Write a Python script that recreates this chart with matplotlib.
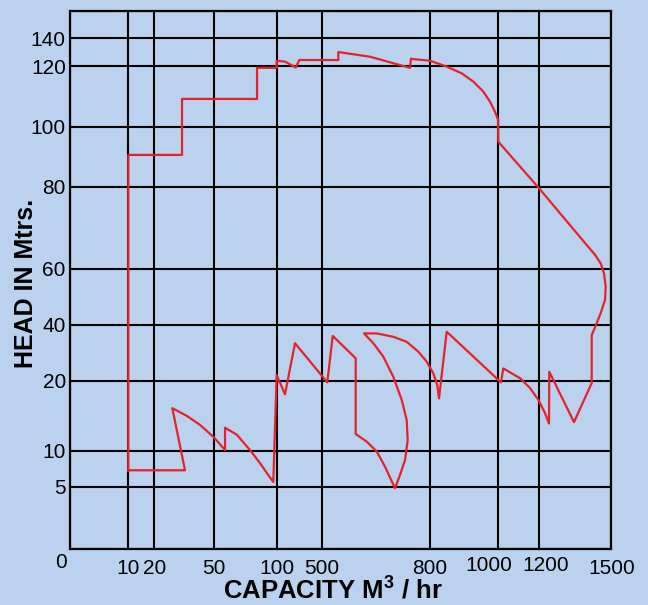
import numpy as np
import matplotlib
matplotlib.use("Agg")
import matplotlib.pyplot as plt

plt.rcParams['font.family'] = ['Liberation Sans', 'DejaVu Sans']
plt.rcParams['mathtext.fontset'] = 'custom'
plt.rcParams['mathtext.rm'] = 'Liberation Sans:bold'
plt.rcParams['mathtext.bf'] = 'Liberation Sans:bold'
plt.rcParams['mathtext.default'] = 'bf'

# Axis tick values (non-uniform chart scale)
x_ticks = [0, 10, 20, 50, 100, 500, 800, 1000, 1200, 1500]
y_ticks = [0, 5, 10, 20, 40, 60, 80, 100, 120, 140, 160]
y_tick_labels = ["", "5", "10", "20", "40", "60", "80", "100", "120", "140", ""]
x_tick_labels = ["", "10", "20", "50", "100", "500", "800", "", "", "1500"]
x_shifted_labels = [(1000, "1000", -9), (1200, "1200", 6.5)]

# Relative spacing of the printed grid (position of each tick along the axis)
x_spacing = [0, 58.3, 84.3, 143.7, 206.7, 251.7, 360.0, 428.0, 469.0, 541.3]
y_spacing = [0, 62, 98.3, 168, 224, 280.3, 362, 422, 483, 510.7, 538]

# Performance envelope (capacity m3/hr, head m), closed outline
capacity = [10, 35.5,
            29.1, 36.4, 43.1, 49.8, 59.0,
            59.0, 68.3, 78.8, 86.7, 93.3, 97.3,
            100, 173.8, 262.7, 515.5, 530.5, 594.2, 594.2,
            624.7, 652.4, 675.4, 703.0,
            716.9, 730.8, 738.2, 735.4, 721.6, 698.3, 670.6, 642.9, 617.2,
            652.4, 698.3, 735.4, 767.5, 790.9, 809.7, 821.5, 826.5,
            849.1, 1014.6,
            1025.9, 1107.3, 1156.1, 1196.6, 1224.9, 1241.5,
            1242.7, 1345.2, 1418.7, 1418.7,
            1439.4, 1456.0, 1473.9, 1476.8, 1469.7, 1456.0, 1432.4, 1397.9,
            1196.6, 1001.5,
            1000.9, 991.2, 976.5, 956.8, 927.4, 893.2, 849.1, 800, 749.3,
            747.4, 744.6, 633.8, 546, 546, 300.9, 268.9, 173.8, 100, 100, 84.4, 84.4, 34.0,
            34.0, 10, 10]
head = [7.3, 7.3,
        16.1, 15.0, 13.7, 12.0, 10.1,
        13.3, 12.3, 10.1, 8.3, 6.65, 5.7,
        22.1, 18.1, 33.5, 19.8, 36.1, 28.1, 12.4,
        11.3, 9.9, 7.8, 4.9,
        6.65, 8.7, 11.5, 14.4, 17.3, 21.5, 28.7, 33.5, 37.0,
        37.0, 35.8, 34.0, 30.5, 26.9, 22.75, 19.4, 17.5,
        37.6, 19.8,
        24.5, 21.0, 19.0, 17.3, 15.4, 13.9,
        23.3, 14.1, 19.7, 36.4,
        40.6, 44.2, 48.9, 53.6, 58.4, 61.3, 63.4, 65.8,
        79.9, 95.1,
        102.3, 105.0, 108.3, 111.6, 114.9, 117.6, 119.8, 123.8, 125.1,
        125.3, 119.4, 126.7, 130.1, 124.3, 124.3, 119.5, 123.2, 123.8, 119.4, 119.4, 109.2, 109.2,
        90.7, 90.7, 7.3]

bg = "#BBD2EE"
red = "#E5222B"
tick_fs = 15

fig = plt.figure(figsize=(6.48, 6.05), dpi=100, facecolor=bg)
ax = fig.add_axes([70 / 648, 1 - 549 / 605, 541.3 / 648, 538 / 605], facecolor=bg)

xd, xp = np.array(x_ticks, float), np.array(x_spacing, float)
yd, yp = np.array(y_ticks, float), np.array(y_spacing, float)
ax.set_xscale('function', functions=(lambda v: np.interp(v, xd, xp), lambda p: np.interp(p, xp, xd)))
ax.set_yscale('function', functions=(lambda v: np.interp(v, yd, yp), lambda p: np.interp(p, yp, yd)))
ax.set_xlim(0, 1500)
ax.set_ylim(0, 160)

ax.set_xticks(x_ticks)
ax.set_xticklabels(x_tick_labels)
ax.set_yticks(y_ticks)
ax.set_yticklabels(y_tick_labels)
ax.minorticks_off()
ax.tick_params(length=0, labelsize=tick_fs, pad=3, colors='black')
ax.tick_params(axis='x', pad=7)
ax.grid(True, color='black', linewidth=1.5)
ax.set_axisbelow(True)
for s in ax.spines.values():
    s.set_linewidth(1.6)
    s.set_color('black')

for xv, txt, dx in x_shifted_labels:
    ax.annotate(txt, xy=(xv, 0), xycoords=('data', 'axes fraction'),
                xytext=(dx, -7), textcoords='offset pixels',
                ha='center', va='top', fontsize=tick_fs)

ax.plot(capacity, head, color=red, linewidth=1.6, solid_joinstyle='round', zorder=3)

fig.text(61 / 648, 1 - 563 / 605, "0", fontsize=tick_fs, ha='center', va='center')
fig.text(333 / 648, 1 - 591 / 605, r"CAPACITY M$^{3}$ / hr", fontsize=18.5, fontweight='bold',
         ha='center', va='center')
fig.text(26 / 648, 1 - 283 / 605, "HEAD IN Mtrs.", fontsize=18, fontweight='bold',
         rotation=90, ha='center', va='center')

fig.savefig("out.png", dpi=100, facecolor=bg)
